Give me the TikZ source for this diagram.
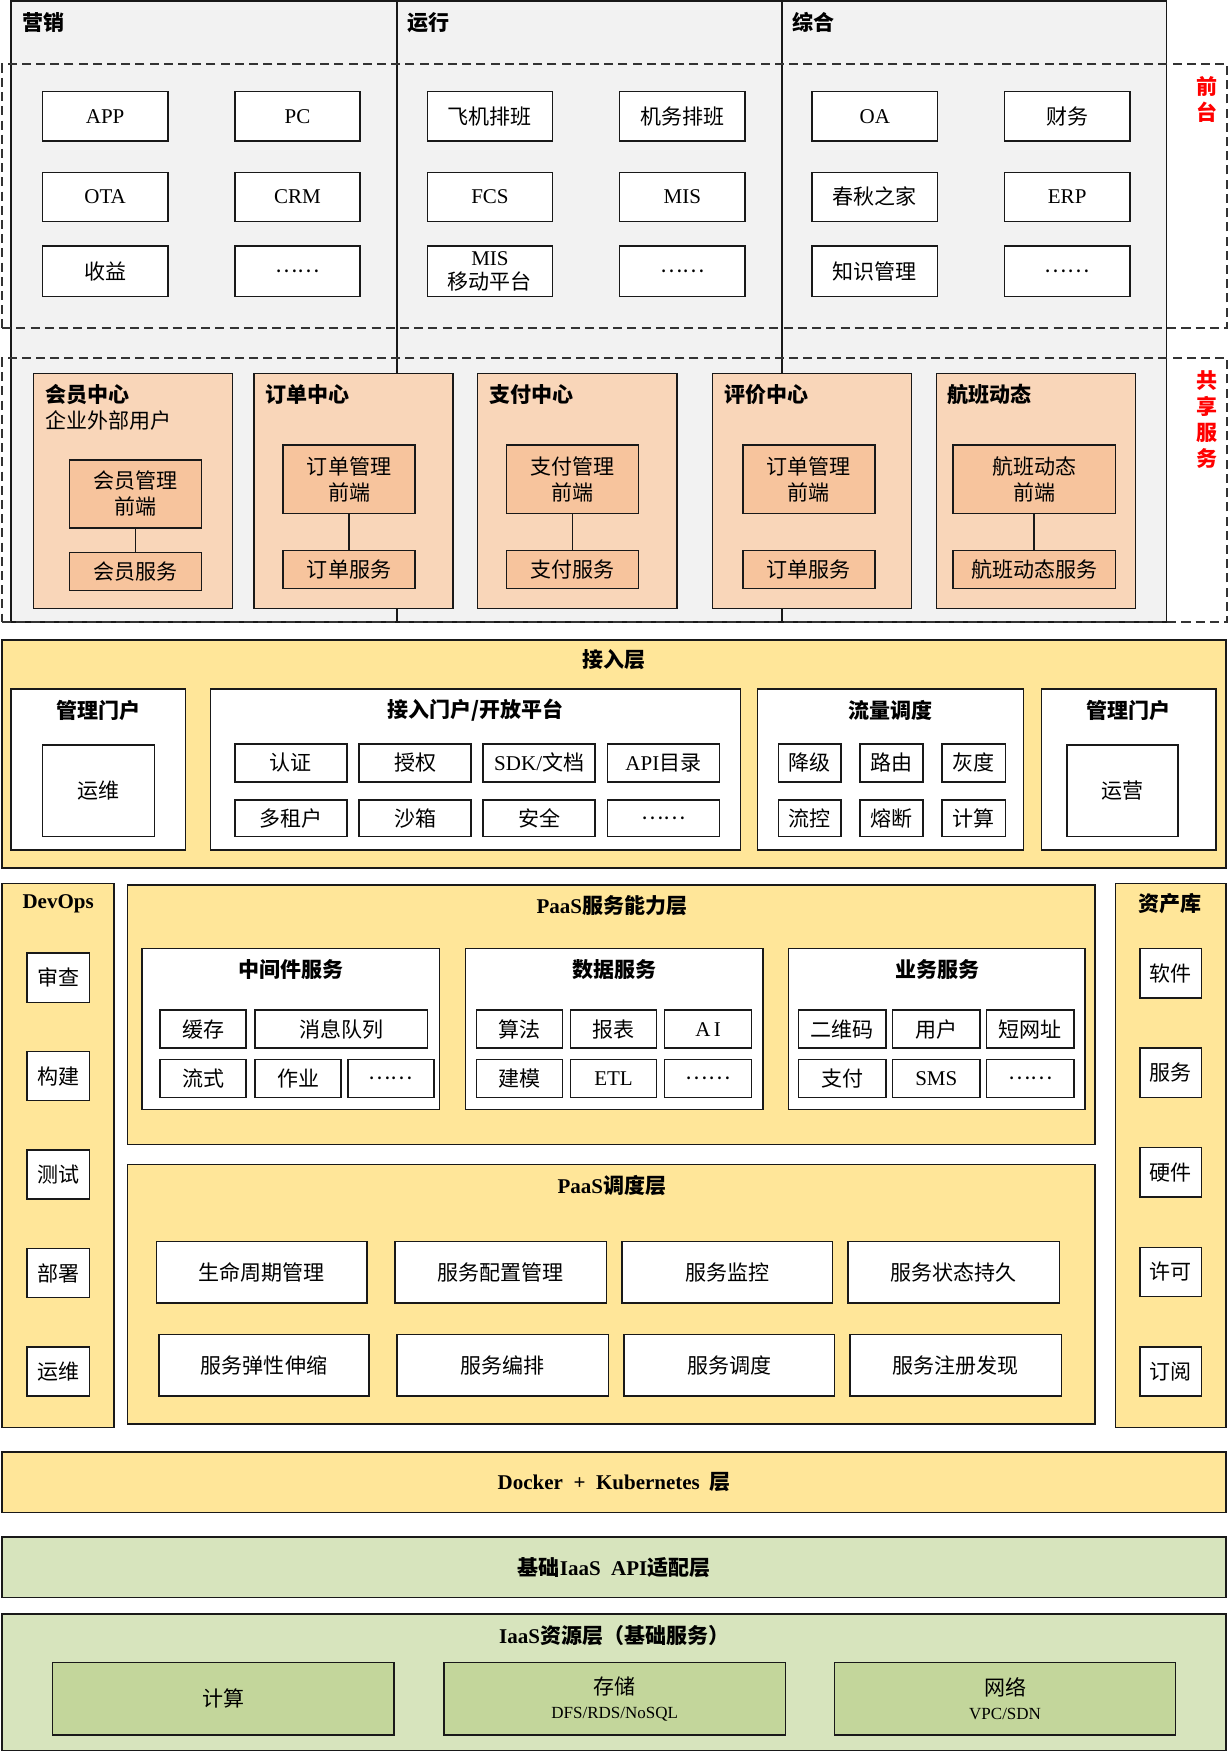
\documentclass[tikz,border=0pt]{standalone}
\usepackage{fontspec}
\setmainfont{Noto Sans CJK SC}
\newfontfamily\latf{Liberation Serif}
\newcommand\lat[1]{{\latf #1}}
\definecolor{bggray}{HTML}{F2F2F2}
\definecolor{peachA}{HTML}{F9D6B9}
\definecolor{peachB}{HTML}{F7C49D}
\definecolor{yel}{HTML}{FFE699}
\definecolor{grnA}{HTML}{D7E4BD}
\definecolor{grnB}{HTML}{C3D69B}
\definecolor{redlbl}{HTML}{FF0000}
\newcommand\bx[7]{\node[#2,minimum width=\fpeval{(#5-#3)*0.559}pt,minimum height=\fpeval{(#6-#4)*0.559}pt] (#1) at ({(#3+#5)/2},{(#4+#6)/2}) {#7};}
\tikzset{
  base/.style={draw=black!90,line width=0.75pt,inner sep=0pt,outer sep=0pt,align=center,font=\fontsize{10.5}{12.9}\selectfont},
  colbox/.style={base,fill=bggray},
  wbox/.style={base,fill=white},
  dashbox/.style={base,draw=black!80,dash pattern=on 4.5pt off 2.6pt,line width=0.8pt},
  pA/.style={base,fill=peachA},
  pB/.style={base,fill=peachB},
  ybox/.style={base,fill=yel},
  gA/.style={base,fill=grnA},
  gB/.style={base,fill=grnB},
  ttl/.style={inner sep=0pt,font=\fontsize{10.5}{12.9}\selectfont\bfseries},
  sub/.style={inner sep=0pt,font=\fontsize{10.5}{12.9}\selectfont},
  redt/.style={inner sep=0pt,align=center,text=redlbl,font=\fontsize{10.5}{13.1}\selectfont\bfseries},
  conn/.style={draw=black!90,line width=0.75pt}
}
\begin{document}
\begin{tikzpicture}[x=0.559pt,y=-0.559pt]
\useasboundingbox (0,0) rectangle (1099,1568);
% ---------- top columns
\bx{col1}{colbox}{10}{1}{355}{556}{}
\bx{col2}{colbox}{355}{1}{699}{556}{}
\bx{col3}{colbox}{699}{1}{1043}{556}{}
\node[ttl,anchor=west] (h1) at (20,20) {营销};
\node[ttl,anchor=west] (h2) at (364,20) {运行};
\node[ttl,anchor=west] (h3) at (708,20) {综合};
% dashed bands
\bx{fd}{dashbox}{2}{57}{1097}{293}{}
\bx{sd}{dashbox}{2}{320}{1097}{556}{}
\node[redt] (rl1) at (1079,89) {前\\台};
\node[redt] (rl2) at (1079,375) {共\\享\\服\\务};
% front boxes
\bx{f11}{wbox}{38}{82}{150}{126}{\lat{APP}}
\bx{f12}{wbox}{210}{82}{322}{126}{\lat{PC}}
\bx{f13}{wbox}{382}{82}{494}{126}{飞机排班}
\bx{f14}{wbox}{554}{82}{666}{126}{机务排班}
\bx{f15}{wbox}{726}{82}{838}{126}{\lat{OA}}
\bx{f16}{wbox}{898}{82}{1010}{126}{财务}
\bx{f21}{wbox}{38}{154}{150}{198}{\lat{OTA}}
\bx{f22}{wbox}{210}{154}{322}{198}{\lat{CRM}}
\bx{f23}{wbox}{382}{154}{494}{198}{\lat{FCS}}
\bx{f24}{wbox}{554}{154}{666}{198}{\lat{MIS}}
\bx{f25}{wbox}{726}{154}{838}{198}{春秋之家}
\bx{f26}{wbox}{898}{154}{1010}{198}{\lat{ERP}}
\bx{f31}{wbox}{38}{220}{150}{265}{收益}
\bx{f32}{wbox}{210}{220}{322}{265}{……}
\bx{f33}{wbox,font=\fontsize{10.5}{11.8}\selectfont}{382}{220}{494}{265}{\lat{MIS}\\移动平台}
\bx{f34}{wbox}{554}{220}{666}{265}{……}
\bx{f35}{wbox}{726}{220}{838}{265}{知识管理}
\bx{f36}{wbox}{898}{220}{1010}{265}{……}
% shared service centres
\bx{c1}{pA}{30}{334}{208}{544}{}
\bx{c2}{pA}{227}{334}{405}{544}{}
\bx{c3}{pA}{427}{334}{605}{544}{}
\bx{c4}{pA}{637}{334}{815}{544}{}
\bx{c5}{pA}{837}{334}{1015}{544}{}
\node[ttl,anchor=west] (t1) at (40,353) {会员中心};
\node[sub,anchor=west] (t1b) at (40,376) {企业外部用户};
\node[ttl,anchor=west] (t2) at (237,353) {订单中心};
\node[ttl,anchor=west] (t3) at (437,353) {支付中心};
\node[ttl,anchor=west] (t4) at (647,353) {评价中心};
\node[ttl,anchor=west] (t5) at (847,353) {航班动态};
\bx{c1f}{pB}{62}{411}{180}{472}{会员管理\\前端}
\bx{c1s}{pB}{62}{494}{180}{528}{会员服务}
\bx{c2f}{pB}{253}{398}{371}{459}{订单管理\\前端}
\bx{c2s}{pB}{253}{492}{371}{526}{订单服务}
\bx{c3f}{pB}{453}{398}{571}{459}{支付管理\\前端}
\bx{c3s}{pB}{453}{492}{571}{526}{支付服务}
\bx{c4f}{pB}{664}{398}{782}{459}{订单管理\\前端}
\bx{c4s}{pB}{664}{492}{782}{526}{订单服务}
\bx{c5f}{pB}{852}{398}{997}{459}{航班动态\\前端}
\bx{c5s}{pB}{852}{492}{997}{526}{航班动态服务}
\draw[conn] (c1f.south) -- (c1s.north);
\draw[conn] (c2f.south) -- (c2s.north);
\draw[conn] (c3f.south) -- (c3s.north);
\draw[conn] (c5f.south) -- (c5s.north);
% ---------- access layer
\bx{acc}{ybox}{2}{572}{1096}{776}{}
\node[ttl] (acct) at (549,590) {接入层};
\bx{mg1}{wbox}{10}{616}{166}{760}{}
\node[ttl] (mg1t) at (88,635) {管理门户};
\bx{mg1a}{wbox}{38}{666}{138}{748}{运维}
\bx{op}{wbox}{188}{616}{662}{760}{}
\node[ttl] (opt) at (425,635) {接入门户/开放平台};
\bx{op11}{wbox}{210}{665}{310}{699}{认证}
\bx{op12}{wbox}{321}{665}{421}{699}{授权}
\bx{op13}{wbox}{432}{665}{532}{699}{\lat{SDK/}文档}
\bx{op14}{wbox}{543}{665}{643}{699}{\lat{API}目录}
\bx{op21}{wbox}{210}{715}{310}{748}{多租户}
\bx{op22}{wbox}{321}{715}{421}{748}{沙箱}
\bx{op23}{wbox}{432}{715}{532}{748}{安全}
\bx{op24}{wbox}{543}{715}{643}{748}{……}
\bx{tf}{wbox}{677}{616}{915}{760}{}
\node[ttl] (tft) at (796,635) {流量调度};
\bx{tf11}{wbox}{696}{665}{752}{699}{降级}
\bx{tf12}{wbox}{769}{665}{825}{699}{路由}
\bx{tf13}{wbox}{842}{665}{899}{699}{灰度}
\bx{tf21}{wbox}{696}{715}{752}{748}{流控}
\bx{tf22}{wbox}{769}{715}{825}{748}{熔断}
\bx{tf23}{wbox}{842}{715}{899}{748}{计算}
\bx{mg2}{wbox}{931}{616}{1087}{760}{}
\node[ttl] (mg2t) at (1009,635) {管理门户};
\bx{mg2a}{wbox}{954}{666}{1053}{748}{运营}
% ---------- DevOps
\bx{dev}{ybox}{2}{790}{102}{1276}{}
\node[ttl] (devt) at (52,808) {\lat{DevOps}};
\bx{dv1}{wbox}{24}{852}{80}{896}{审查}
\bx{dv2}{wbox}{24}{940}{80}{984}{构建}
\bx{dv3}{wbox}{24}{1028}{80}{1072}{测试}
\bx{dv4}{wbox}{24}{1116}{80}{1160}{部署}
\bx{dv5}{wbox}{24}{1204}{80}{1248}{运维}
% ---------- asset library
\bx{ast}{ybox}{997}{790}{1096}{1276}{}
\node[ttl] (astt) at (1046,808) {资产库};
\bx{as1}{wbox}{1019}{848}{1074}{892}{软件}
\bx{as2}{wbox}{1019}{937}{1074}{981}{服务}
\bx{as3}{wbox}{1019}{1026}{1074}{1070}{硬件}
\bx{as4}{wbox}{1019}{1115}{1074}{1159}{许可}
\bx{as5}{wbox}{1019}{1204}{1074}{1248}{订阅}
% ---------- PaaS capability
\bx{pc}{ybox}{114}{791}{979}{1023}{}
\node[ttl] (pct) at (547,810) {\lat{PaaS}服务能力层};
\bx{mw}{wbox}{127}{848}{393}{992}{}
\node[ttl] (mwt) at (260,867) {中间件服务};
\bx{mw11}{wbox}{143}{903}{220}{937}{缓存}
\bx{mw12}{wbox}{228}{903}{382}{937}{消息队列}
\bx{mw21}{wbox}{143}{947}{220}{981}{流式}
\bx{mw22}{wbox}{228}{947}{305}{981}{作业}
\bx{mw23}{wbox}{311}{947}{388}{981}{……}
\bx{ds}{wbox}{416}{848}{682}{992}{}
\node[ttl] (dst) at (549,867) {数据服务};
\bx{ds11}{wbox}{426}{903}{503}{937}{算法}
\bx{ds12}{wbox}{510}{903}{587}{937}{报表}
\bx{ds13}{wbox}{594}{903}{672}{937}{\lat{A\,I}}
\bx{ds21}{wbox}{426}{947}{503}{981}{建模}
\bx{ds22}{wbox}{510}{947}{587}{981}{\lat{ETL}}
\bx{ds23}{wbox}{594}{947}{672}{981}{……}
\bx{bs}{wbox}{705}{848}{970}{992}{}
\node[ttl] (bst) at (838,867) {业务服务};
\bx{bs11}{wbox}{714}{903}{792}{937}{二维码}
\bx{bs12}{wbox}{798}{903}{876}{937}{用户}
\bx{bs13}{wbox}{882}{903}{960}{937}{短网址}
\bx{bs21}{wbox}{714}{947}{792}{981}{支付}
\bx{bs22}{wbox}{798}{947}{876}{981}{\lat{SMS}}
\bx{bs23}{wbox}{882}{947}{960}{981}{……}
% ---------- PaaS scheduling
\bx{psd}{ybox}{114}{1041}{979}{1273}{}
\node[ttl] (psdt) at (547,1060) {\lat{PaaS}调度层};
\bx{ps11}{wbox}{140}{1110}{328}{1165}{生命周期管理}
\bx{ps12}{wbox}{353}{1110}{542}{1165}{服务配置管理}
\bx{ps13}{wbox}{556}{1110}{744}{1165}{服务监控}
\bx{ps14}{wbox}{758}{1110}{947}{1165}{服务状态持久}
\bx{ps21}{wbox}{142}{1193}{330}{1248}{服务弹性伸缩}
\bx{ps22}{wbox}{355}{1193}{544}{1248}{服务编排}
\bx{ps23}{wbox}{558}{1193}{746}{1248}{服务调度}
\bx{ps24}{wbox}{760}{1193}{949}{1248}{服务注册发现}
% ---------- bottom layers
\bx{dk}{ybox,font=\fontsize{10.5}{12.9}\selectfont\bfseries}{2}{1298}{1096}{1352}{\lat{Docker\ \ +\ \ Kubernetes}\ \ 层}
\bx{iapi}{gA,font=\fontsize{10.5}{12.9}\selectfont\bfseries}{2}{1374}{1096}{1428}{基础\lat{IaaS\ \ API}适配层}
\bx{ires}{gA}{2}{1443}{1096}{1565}{}
\node[ttl] (irest) at (549,1462) {\lat{IaaS}资源层（基础服务）};
\bx{ir1}{gB}{47}{1486}{352}{1551}{计算}
\bx{ir2}{gB}{397}{1486}{702}{1551}{存储\\[-1pt]{\fontsize{8.5}{10}\selectfont\lat{DFS/RDS/NoSQL}}}
\bx{ir3}{gB}{746}{1486}{1051}{1551}{网络\\[-1pt]{\fontsize{8.5}{10}\selectfont\lat{VPC/SDN}}}
\end{tikzpicture}
\end{document}
